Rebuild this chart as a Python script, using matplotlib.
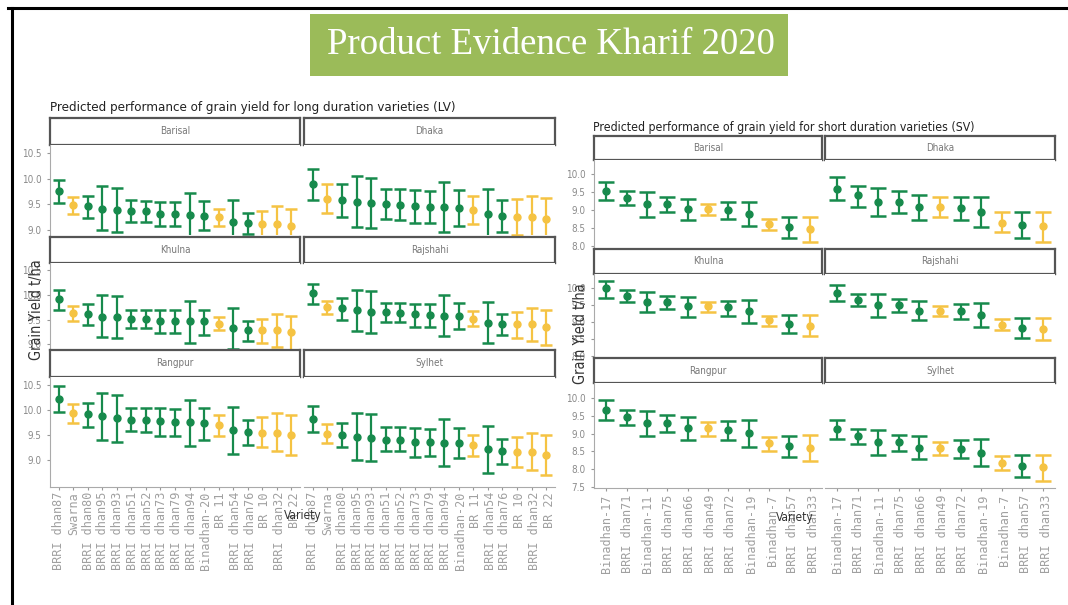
import numpy as np
import matplotlib
matplotlib.use("Agg")
import matplotlib.pyplot as plt
from matplotlib import font_manager as fm
from matplotlib.lines import Line2D
from matplotlib.patches import Rectangle

# Long duration varieties (LV)
lv_varieties = ["BRRI dhan87", "Swarna", "BRRI dhan80", "BRRI dhan95", "BRRI dhan93",
                "BRRI dhan51", "BRRI dhan52", "BRRI dhan73", "BRRI dhan79", "BRRI dhan94",
                "Binadhan-20", "BR 11", "BRRI dhan54", "BRRI dhan76", "BR 10",
                "BRRI dhan32", "BR 22"]
lv_checks = ["Swarna", "BR 11", "BR 10", "BRRI dhan32", "BR 22"]

lv_mean = {
    "Barisal":  [9.77, 9.49, 9.46, 9.41, 9.38, 9.36, 9.36, 9.32, 9.31, 9.30, 9.28, 9.25, 9.16, 9.13, 9.12, 9.12, 9.07],
    "Dhaka":    [9.89, 9.61, 9.59, 9.55, 9.53, 9.51, 9.49, 9.46, 9.45, 9.45, 9.43, 9.39, 9.31, 9.28, 9.26, 9.26, 9.21],
    "Khulna":   [9.91, 9.64, 9.61, 9.56, 9.55, 9.52, 9.52, 9.47, 9.47, 9.47, 9.46, 9.41, 9.32, 9.29, 9.28, 9.28, 9.24],
    "Rajshahi": [10.03, 9.76, 9.73, 9.69, 9.66, 9.65, 9.64, 9.61, 9.59, 9.57, 9.57, 9.52, 9.43, 9.41, 9.40, 9.40, 9.35],
    "Rangpur":  [10.21, 9.93, 9.91, 9.87, 9.84, 9.80, 9.80, 9.77, 9.75, 9.75, 9.73, 9.69, 9.60, 9.56, 9.55, 9.55, 9.51],
    "Sylhet":   [9.82, 9.53, 9.51, 9.47, 9.45, 9.41, 9.41, 9.37, 9.37, 9.35, 9.35, 9.30, 9.22, 9.18, 9.17, 9.17, 9.11],
}
lv_lower = {
    "Barisal":  [9.53, 9.31, 9.23, 8.99, 8.95, 9.15, 9.16, 9.07, 9.07, 8.87, 9.00, 9.08, 8.75, 8.91, 8.86, 8.80, 8.75],
    "Dhaka":    [9.59, 9.33, 9.26, 9.06, 9.03, 9.22, 9.20, 9.13, 9.13, 8.95, 9.07, 9.11, 8.84, 8.95, 8.90, 8.85, 8.84],
    "Khulna":   [9.69, 9.47, 9.39, 9.14, 9.12, 9.32, 9.32, 9.23, 9.23, 9.03, 9.18, 9.28, 8.90, 9.07, 9.03, 8.94, 8.88],
    "Rajshahi": [9.81, 9.62, 9.50, 9.27, 9.22, 9.45, 9.44, 9.35, 9.35, 9.16, 9.30, 9.37, 9.03, 9.19, 9.13, 9.06, 8.98],
    "Rangpur":  [9.95, 9.74, 9.65, 9.41, 9.36, 9.58, 9.56, 9.48, 9.48, 9.29, 9.41, 9.48, 9.13, 9.31, 9.26, 9.18, 9.11],
    "Sylhet":   [9.56, 9.34, 9.26, 9.01, 8.98, 9.18, 9.18, 9.07, 9.09, 8.89, 9.04, 9.09, 8.75, 8.93, 8.87, 8.80, 8.71],
}
lv_upper = {
    "Barisal":  [9.97, 9.64, 9.66, 9.86, 9.81, 9.58, 9.56, 9.54, 9.54, 9.72, 9.57, 9.40, 9.59, 9.34, 9.37, 9.46, 9.41],
    "Dhaka":    [10.20, 9.89, 9.90, 10.05, 10.01, 9.80, 9.80, 9.78, 9.77, 9.93, 9.78, 9.66, 9.79, 9.59, 9.60, 9.67, 9.62],
    "Khulna":   [10.11, 9.77, 9.81, 9.99, 9.97, 9.70, 9.69, 9.69, 9.69, 9.88, 9.69, 9.55, 9.73, 9.48, 9.52, 9.61, 9.58],
    "Rajshahi": [10.23, 9.88, 9.93, 10.11, 10.08, 9.84, 9.84, 9.82, 9.82, 9.99, 9.83, 9.67, 9.86, 9.61, 9.66, 9.74, 9.69],
    "Rangpur":  [10.47, 10.11, 10.14, 10.33, 10.30, 10.03, 10.04, 10.03, 10.01, 10.20, 10.03, 9.90, 10.06, 9.80, 9.86, 9.94, 9.90],
    "Sylhet":   [10.07, 9.72, 9.74, 9.93, 9.91, 9.65, 9.65, 9.64, 9.62, 9.81, 9.64, 9.50, 9.67, 9.42, 9.47, 9.55, 9.51],
}

# Short duration varieties (SV)
sv_varieties = ["Binadhan-17", "BRRI dhan71", "Binadhan-11", "BRRI dhan75", "BRRI dhan66",
                "BRRI dhan49", "BRRI dhan72", "Binadhan-19", "Binadhan-7", "BRRI dhan57",
                "BRRI dhan33"]
sv_checks = ["BRRI dhan49", "Binadhan-7", "BRRI dhan33"]

sv_mean = {
    "Barisal":  [9.53, 9.33, 9.16, 9.16, 9.03, 9.02, 9.00, 8.89, 8.61, 8.51, 8.47],
    "Dhaka":    [9.59, 9.42, 9.23, 9.23, 9.07, 9.07, 9.05, 8.95, 8.64, 8.58, 8.55],
    "Khulna":   [9.98, 9.76, 9.58, 9.58, 9.47, 9.47, 9.43, 9.31, 9.04, 8.94, 8.89],
    "Rajshahi": [9.84, 9.64, 9.50, 9.50, 9.33, 9.33, 9.31, 9.21, 8.92, 8.83, 8.80],
    "Rangpur":  [9.67, 9.48, 9.29, 9.29, 9.15, 9.15, 9.10, 9.01, 8.73, 8.65, 8.58],
    "Sylhet":   [9.12, 8.93, 8.77, 8.77, 8.60, 8.60, 8.56, 8.46, 8.18, 8.08, 8.05],
}
sv_lower = {
    "Barisal":  [9.28, 9.14, 8.81, 8.93, 8.72, 8.86, 8.74, 8.55, 8.44, 8.22, 8.11],
    "Dhaka":    [9.28, 9.09, 8.83, 8.91, 8.72, 8.79, 8.72, 8.53, 8.37, 8.21, 8.09],
    "Khulna":   [9.69, 9.58, 9.28, 9.38, 9.14, 9.30, 9.18, 8.97, 8.88, 8.66, 8.57],
    "Rajshahi": [9.60, 9.45, 9.14, 9.28, 9.04, 9.18, 9.07, 8.86, 8.75, 8.54, 8.46],
    "Rangpur":  [9.39, 9.25, 8.93, 9.04, 8.82, 8.94, 8.83, 8.63, 8.52, 8.33, 8.21],
    "Sylhet":   [8.85, 8.71, 8.40, 8.51, 8.28, 8.39, 8.30, 8.09, 7.97, 7.78, 7.67],
}
sv_upper = {
    "Barisal":  [9.79, 9.53, 9.51, 9.37, 9.30, 9.16, 9.21, 9.21, 8.75, 8.79, 8.81],
    "Dhaka":    [9.92, 9.67, 9.61, 9.53, 9.42, 9.35, 9.37, 9.35, 8.93, 8.93, 8.93],
    "Khulna":   [10.20, 9.93, 9.88, 9.77, 9.72, 9.58, 9.62, 9.64, 9.16, 9.21, 9.21],
    "Rajshahi": [10.08, 9.81, 9.81, 9.67, 9.60, 9.45, 9.53, 9.55, 9.07, 9.12, 9.12],
    "Rangpur":  [9.95, 9.67, 9.64, 9.53, 9.46, 9.32, 9.36, 9.37, 8.91, 8.93, 8.96],
    "Sylhet":   [9.39, 9.13, 9.10, 8.96, 8.92, 8.77, 8.82, 8.84, 8.37, 8.40, 8.40],
}

regions = [["Barisal", "Dhaka"], ["Khulna", "Rajshahi"], ["Rangpur", "Sylhet"]]

W, H = 1068, 605
GREEN = "#178a4c"
YELLOW = "#f5c343"

# narrow sans if the system has one, else shrink DejaVu Sans a bit
fonts = fm.fontManager.ttflist
if any(f.name == "Liberation Sans Narrow" for f in fonts):
    NARROW = dict(family="Liberation Sans Narrow")
    SCALE = 1.0
elif any(f.name == "DejaVu Sans" and f.stretch in ("condensed", "semi-condensed", 300, 400)
         for f in fonts):
    NARROW = dict(family="DejaVu Sans", stretch="condensed")
    SCALE = 0.95
else:
    NARROW = dict(family="DejaVu Sans")
    SCALE = 0.84

fig = plt.figure(figsize=(W / 100, H / 100), dpi=100)


def box(x0, y0, x1, y1):
    # pixel box (top-left origin) -> figure fraction rect
    return [x0 / W, 1 - y1 / H, (x1 - x0) / W, (y1 - y0) / H]


def draw_block(varieties, checks, mean, lower, upper, cols, strips, panels, ylims,
               ticks, capsize, tick_top, xlab_pos, ylab_pos, title, title_pos, title_size):
    n = len(varieties)
    x = np.arange(1, n + 1)
    colors = [YELLOW if v in checks else GREEN for v in varieties]
    for r, row in enumerate(regions):
        for c, reg in enumerate(row):
            # strip
            sax = fig.add_axes(box(cols[c][0], strips[r][0], cols[c][1], strips[r][1]))
            sax.set_xticks([])
            sax.set_yticks([])
            for sp in sax.spines.values():
                sp.set_color("#555555")
                sp.set_linewidth(1.6)
            sax.text(0.5, 0.5, reg, ha="center", va="center", fontsize=7.5 * SCALE,
                     color="#777777", transform=sax.transAxes, **NARROW)
            # panel
            ax = fig.add_axes(box(cols[c][0], panels[r][0], cols[c][1], panels[r][1]))
            m = np.array(mean[reg])
            lo = np.array(lower[reg])
            hi = np.array(upper[reg])
            for i in range(n):
                ax.errorbar(x[i], m[i], yerr=[[m[i] - lo[i]], [hi[i] - m[i]]],
                            fmt="o", color=colors[i], ms=5, elinewidth=1.6,
                            capsize=capsize, capthick=1.8)
            ax.set_xlim(0.4, n + 0.6)
            ax.set_ylim(*ylims[r])
            for sp in ["top", "right"]:
                ax.spines[sp].set_visible(False)
            ax.spines["left"].set_visible(c == 0)
            ax.spines["bottom"].set_visible(r == 2)
            ax.spines["left"].set_color("#aaaaaa")
            ax.spines["bottom"].set_color("#aaaaaa")
            ax.tick_params(colors="#999999", length=2.5, width=0.8)
            if c == 0:
                tk = [t for t in ticks if ylims[r][0] <= t <= ylims[r][1]]
                ax.set_yticks(tk)
                ax.set_yticklabels([f"{t:.1f}" for t in tk], fontsize=7.5 * SCALE,
                                   color="#8a8a8a", **NARROW)
            else:
                ax.set_yticks([])
            if r == 2:
                ax.set_xticks(x)
                ax.set_xticklabels([])
                for i, v in enumerate(varieties):
                    fig.text((cols[c][0] + (cols[c][1] - cols[c][0]) * (x[i] - 0.4) / n) / W,
                             1 - tick_top / H, v, rotation=90, ha="center", va="top",
                             fontsize=8.5, color="#a0a0a0", family="DejaVu Sans Mono")
            else:
                ax.set_xticks([])
    fig.text(xlab_pos[0] / W, 1 - xlab_pos[1] / H, "Variety", ha="center", va="center",
             fontsize=9 * SCALE, color="#333333", **NARROW)
    fig.text(ylab_pos[0] / W, 1 - ylab_pos[1] / H, "Grain Yield t/ha", rotation=90,
             ha="center", va="center", fontsize=11 * SCALE, color="#333333", **NARROW)
    fig.text(title_pos[0] / W, 1 - title_pos[1] / H, title, ha="left", va="center",
             fontsize=title_size * SCALE, color="#222222", **NARROW)


draw_block(lv_varieties, lv_checks, lv_mean, lv_lower, lv_upper,
           cols=[(50, 300), (304, 555)],
           strips=[(118, 145), (237, 263), (350, 377)],
           panels=[(145, 235), (263, 350), (377, 487)],
           ylims=[(8.90, 10.66), (8.88, 10.65), (8.47, 10.65)],
           ticks=[9.0, 9.5, 10.0, 10.5], capsize=4.5, tick_top=492,
           xlab_pos=(303, 515), ylab_pos=(36, 310),
           title="Predicted performance of grain yield for long duration varieties (LV)",
           title_pos=(50, 107), title_size=10)

draw_block(sv_varieties, sv_checks, sv_mean, sv_lower, sv_upper,
           cols=[(594, 822), (825, 1055)],
           strips=[(136, 160), (249, 274), (358, 383)],
           panels=[(160, 247), (274, 358), (383, 488)],
           ylims=[(7.96, 10.40), (7.94, 10.40), (7.46, 10.43)],
           ticks=[7.5, 8.0, 8.5, 9.0, 9.5, 10.0], capsize=6, tick_top=495,
           xlab_pos=(795, 518), ylab_pos=(580, 334),
           title="Predicted performance of grain yield for short duration varieties (SV)",
           title_pos=(593, 127), title_size=9.3)

# slide frame and green title banner
fig.add_artist(Line2D([8 / W, 1], [1 - 8 / H, 1 - 8 / H], color="black", lw=2.2))
fig.add_artist(Line2D([12 / W, 12 / W], [0, 1 - 8 / H], color="black", lw=2.2))
fig.add_artist(Rectangle((310 / W, 1 - 76 / H), 478 / W, 62 / H, transform=fig.transFigure,
                         facecolor="#9bbb59", edgecolor="none"))
fig.text(551 / W, 1 - 45 / H, "Product Evidence Kharif 2020", ha="center", va="center",
         fontsize=26.5, color="white", family=["Liberation Serif", "DejaVu Serif"])

fig.savefig("out.png", dpi=100)
